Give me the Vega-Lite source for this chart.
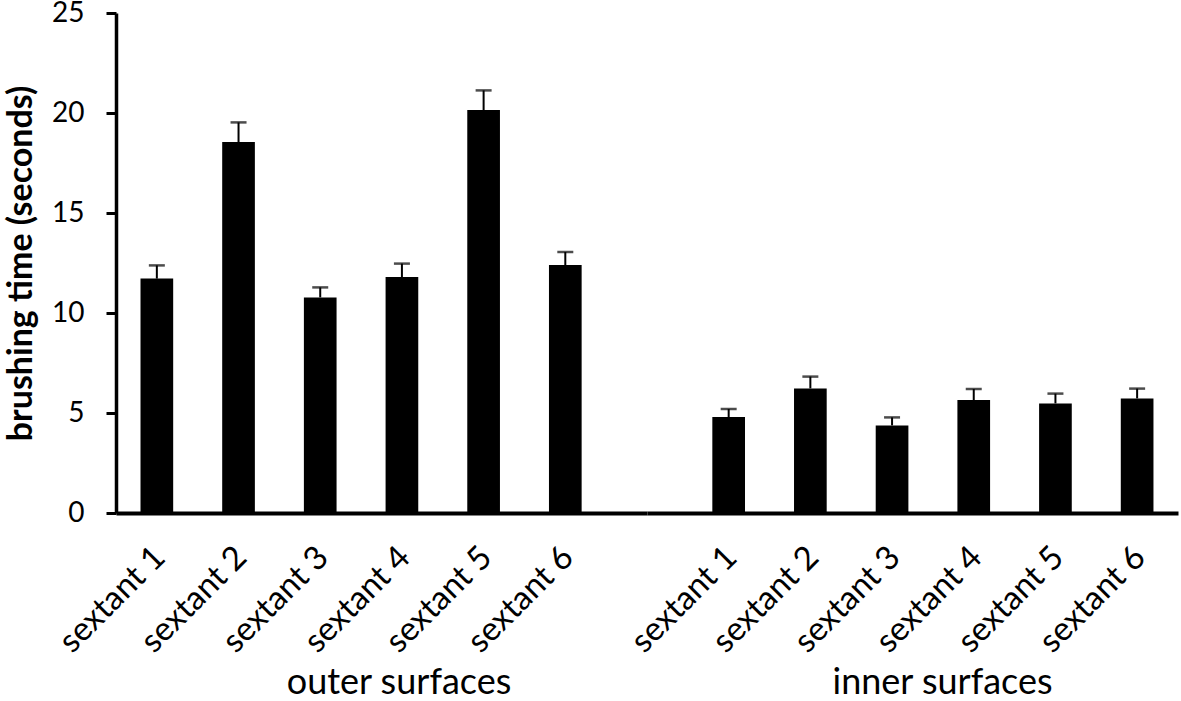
{
  "$schema": "https://vega.github.io/schema/vega-lite/v6.json",
  "background": "white",
  "padding": {"left": 4, "top": -1, "right": 2, "bottom": 4},
  "spacing": 0,
  "bounds": "flush",
  "config": {
    "view": {"stroke": null},
    "font": "Lato",
    "concat": {"spacing": 0}
  },
  "datasets": {
    "brushing": [
      {"group": "outer surfaces", "sextant": "sextant 1", "mean": 11.72, "upper": 12.38},
      {"group": "outer surfaces", "sextant": "sextant 2", "mean": 18.55, "upper": 19.53},
      {"group": "outer surfaces", "sextant": "sextant 3", "mean": 10.78, "upper": 11.28},
      {"group": "outer surfaces", "sextant": "sextant 4", "mean": 11.8, "upper": 12.47},
      {"group": "outer surfaces", "sextant": "sextant 5", "mean": 20.15, "upper": 21.13},
      {"group": "outer surfaces", "sextant": "sextant 6", "mean": 12.4, "upper": 13.05},
      {"group": "inner surfaces", "sextant": "sextant 1", "mean": 4.8, "upper": 5.2},
      {"group": "inner surfaces", "sextant": "sextant 2", "mean": 6.23, "upper": 6.82},
      {"group": "inner surfaces", "sextant": "sextant 3", "mean": 4.38, "upper": 4.78},
      {"group": "inner surfaces", "sextant": "sextant 4", "mean": 5.65, "upper": 6.2},
      {"group": "inner surfaces", "sextant": "sextant 5", "mean": 5.48, "upper": 5.97},
      {"group": "inner surfaces", "sextant": "sextant 6", "mean": 5.73, "upper": 6.22}
    ]
  },
  "hconcat": [
    {
      "width": 531,
      "height": 500,
      "data": {"name": "brushing"},
      "transform": [{"filter": "datum.group === 'outer surfaces'"}],
      "encoding": {
        "x": {
          "field": "sextant",
          "type": "nominal",
          "sort": null,
          "scale": {"paddingInner": 0.6, "paddingOuter": 0.55, "align": 0.2727},
          "axis": {
            "title": "outer surfaces",
            "titleX": 282.5,
            "titleY": 180,
            "titleBaseline": "alphabetic",
            "titleAlign": "center",
            "titleFontSize": 36,
            "titleFontWeight": "normal",
            "titleColor": "black",
            "ticks": false,
            "domainColor": "black",
            "domainWidth": 4,
            "labelAngle": -45,
            "labelAlign": "right",
            "labelBaseline": "middle",
            "labelFontSize": 33,
            "labelColor": "black",
            "labelPadding": 39,
            "labelOffset": 3,
            "labelOverlap": false,
            "labelLimit": 300
          }
        }
      },
      "layer": [
        {
          "mark": {"type": "bar", "color": "black"},
          "encoding": {
            "y": {
              "field": "mean",
              "type": "quantitative",
              "scale": {"domain": [0, 25], "nice": false},
              "axis": {
                "title": "brushing time (seconds)",
                "titleFontSize": 34,
                "titleFontWeight": "bold",
                "titleColor": "black",
                "titlePadding": 13,
                "values": [0, 5, 10, 15, 20, 25],
                "grid": false,
                "domainColor": "black",
                "domainWidth": 3.5,
                "tickColor": "black",
                "tickWidth": 3,
                "tickSize": 10,
                "labelFontSize": 28,
                "labelColor": "black",
                "labelPadding": 22
              }
            }
          }
        },
        {
          "mark": {"type": "rule", "color": "black", "strokeWidth": 2},
          "encoding": {
            "y": {"field": "mean", "type": "quantitative", "title": "brushing time (seconds)"},
            "y2": {"field": "upper"}
          }
        },
        {
          "mark": {"type": "tick", "color": "black", "thickness": 2.5, "size": 16},
          "encoding": {
            "y": {"field": "upper", "type": "quantitative", "title": "brushing time (seconds)"}
          }
        }
      ]
    },
    {
      "width": 531,
      "height": 500,
      "data": {"name": "brushing"},
      "transform": [{"filter": "datum.group === 'inner surfaces'"}],
      "encoding": {
        "x": {
          "field": "sextant",
          "type": "nominal",
          "sort": null,
          "scale": {"paddingInner": 0.6, "paddingOuter": 0.55, "align": 0.727},
          "axis": {
            "title": "inner surfaces",
            "titleX": 295,
            "titleY": 180,
            "titleBaseline": "alphabetic",
            "titleAlign": "center",
            "titleFontSize": 36,
            "titleFontWeight": "normal",
            "titleColor": "black",
            "ticks": false,
            "domainColor": "black",
            "domainWidth": 4,
            "labelAngle": -45,
            "labelAlign": "right",
            "labelBaseline": "middle",
            "labelFontSize": 33,
            "labelColor": "black",
            "labelPadding": 39,
            "labelOffset": 3,
            "labelOverlap": false,
            "labelLimit": 300
          }
        }
      },
      "layer": [
        {
          "mark": {"type": "bar", "color": "black"},
          "encoding": {
            "y": {
              "field": "mean",
              "type": "quantitative",
              "scale": {"domain": [0, 25], "nice": false},
              "axis": null
            }
          }
        },
        {
          "mark": {"type": "rule", "color": "black", "strokeWidth": 2},
          "encoding": {
            "y": {"field": "mean", "type": "quantitative", "axis": null},
            "y2": {"field": "upper"}
          }
        },
        {
          "mark": {"type": "tick", "color": "black", "thickness": 2.5, "size": 16},
          "encoding": {
            "y": {"field": "upper", "type": "quantitative", "axis": null}
          }
        }
      ]
    }
  ]
}
